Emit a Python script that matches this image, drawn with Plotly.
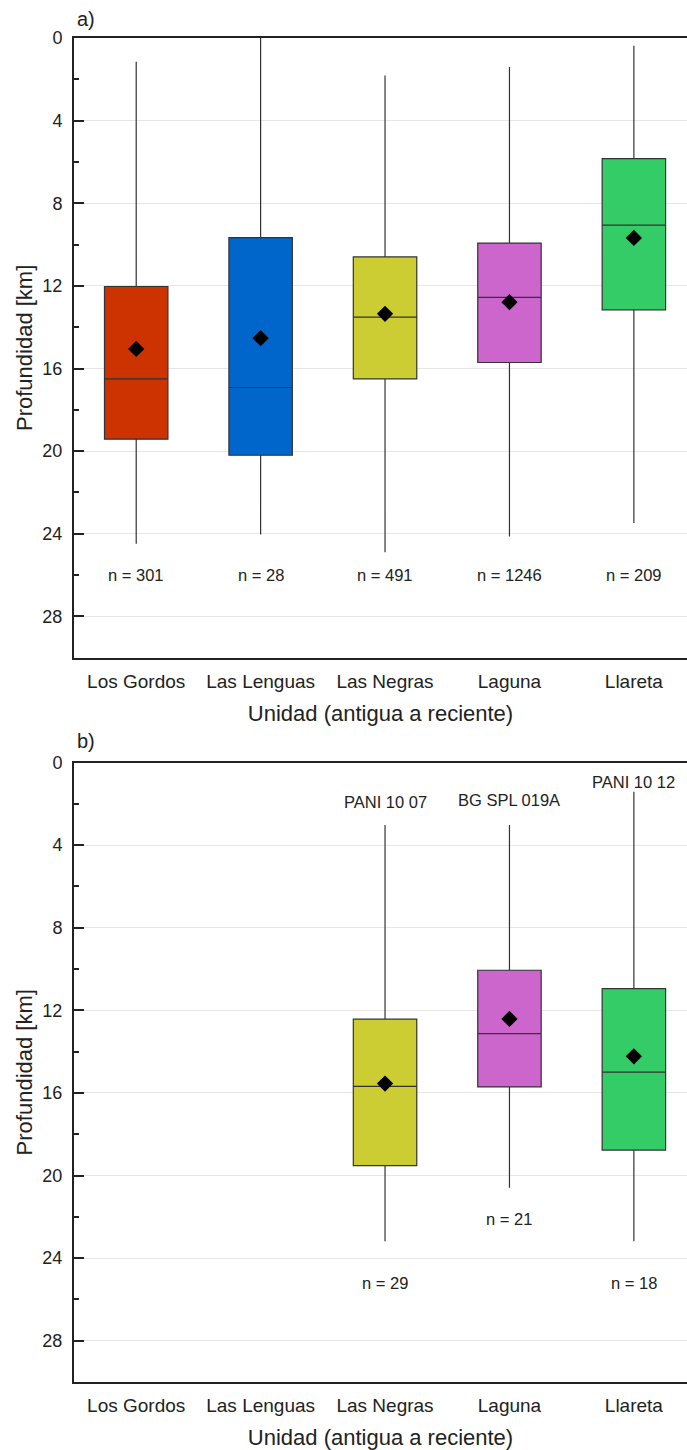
import plotly.graph_objects as go
from plotly.subplots import make_subplots

# ---- data -------------------------------------------------------------
units = ["Los Gordos", "Las Lenguas", "Las Negras", "Laguna", "Llareta"]
unit_colors = ["#CC3300", "#0066CC", "#CCCC33", "#CC66CC", "#33CC66"]

# a) all hypocentres per unit, depth in km
a_min = [1.15, 0.00, 1.81, 1.40, 0.37]
a_q1 = [12.03, 9.66, 10.60, 9.93, 5.84]
a_median = [16.50, 16.92, 13.51, 12.56, 9.06]
a_q3 = [19.42, 20.20, 16.50, 15.71, 13.16]
a_max = [24.48, 24.04, 24.90, 24.13, 23.48]
a_mean = [15.05, 14.53, 13.35, 12.79, 9.68]
a_n = [301, 28, 491, 1246, 209]

# b) single samples
b_units = ["Las Negras", "Laguna", "Llareta"]
b_samples = ["PANI 10 07", "BG SPL 019A", "PANI 10 12"]
b_min = [3.03, 3.03, 1.42]
b_q1 = [12.43, 10.06, 10.95]
b_median = [15.68, 13.13, 14.99]
b_q3 = [19.52, 15.71, 18.77]
b_max = [23.18, 20.59, 23.18]
b_mean = [15.55, 12.42, 14.23]
b_n = [29, 21, 18]

y_ticks = [0, 4, 8, 12, 16, 20, 24, 28]
y_minor = [2, 6, 10, 14, 18, 22, 26]

# ---- styling ----------------------------------------------------------
FONT = "Liberation Sans, Arial, sans-serif"
INK = "#222222"
color_of = dict(zip(units, unit_colors))

W, H = 687, 1450
M_L, M_R, M_T, M_B = 74, 0, 38, 68
plot_h = H - M_T - M_B
top_lo = (H - M_B - 657.7) / plot_h
bot_hi = (H - M_B - 762.5) / plot_h

fig = make_subplots(rows=2, cols=1, shared_xaxes=False, vertical_spacing=0.05)


def add_panel(row, cats, lo, q1, med, q3, hi, mean):
    for i, c in enumerate(cats):
        fig.add_trace(
            go.Box(
                x=[c], lowerfence=[lo[i]], q1=[q1[i]], median=[med[i]],
                q3=[q3[i]], upperfence=[hi[i]],
                fillcolor=color_of[c],
                line=dict(color="#333333", width=1.2),
                width=0.51, whiskerwidth=0, boxpoints=False,
                showlegend=False, hoverinfo="skip",
            ),
            row=row, col=1,
        )
    fig.add_trace(
        go.Scatter(
            x=cats, y=mean, mode="markers",
            marker=dict(symbol="diamond", size=12.5, color="black"),
            showlegend=False, hoverinfo="skip",
        ),
        row=row, col=1,
    )


add_panel(1, units, a_min, a_q1, a_median, a_q3, a_max, a_mean)
add_panel(2, b_units, b_min, b_q1, b_median, b_q3, b_max, b_mean)

annotations = []
# sample counts, panel a
for c, n in zip(units, a_n):
    annotations.append(dict(x=c, y=26.0, xref="x", yref="y", text=f"n = {n}",
                            showarrow=False, font=dict(size=16.5, color=INK, family=FONT)))
# sample counts and names, panel b
b_n_y = [25.2, 22.1, 25.2]
b_name_y = [1.9, 1.82, 0.93]
for c, n, s, ny, sy in zip(b_units, b_n, b_samples, b_n_y, b_name_y):
    annotations.append(dict(x=c, y=ny, xref="x2", yref="y2", text=f"n = {n}",
                            showarrow=False, font=dict(size=16.5, color=INK, family=FONT)))
    annotations.append(dict(x=c, y=sy, xref="x2", yref="y2", text=s,
                            showarrow=False, font=dict(size=16.5, color=INK, family=FONT)))
# panel letters
annotations.append(dict(x=0, y=1, xref="x domain", yref="y domain", xanchor="left",
                        yanchor="middle", xshift=1, yshift=19, text="a)", showarrow=False,
                        font=dict(size=20, color=INK, family=FONT)))
annotations.append(dict(x=0, y=1, xref="x2 domain", yref="y2 domain", xanchor="left",
                        yanchor="middle", xshift=1, yshift=22, text="b)", showarrow=False,
                        font=dict(size=20, color=INK, family=FONT)))

xaxis_style = dict(
    type="category", categoryorder="array", categoryarray=units,
    range=[-0.5, 4.427], showline=True, linewidth=2, linecolor=INK, mirror=True,
    ticks="", showgrid=False, zeroline=False, ticklabelstandoff=5,
    tickfont=dict(size=19, color=INK, family=FONT),
    title=dict(text="Unidad (antigua a reciente)", standoff=15,
               font=dict(size=22, color=INK, family=FONT)),
)
yaxis_style = dict(
    range=[30, 0], tickvals=y_ticks, ticks="inside", ticklen=10, tickwidth=1.5,
    tickcolor=INK, showline=True, linewidth=2, linecolor=INK, mirror=False,
    showgrid=True, gridcolor="#e6e6e6", gridwidth=1, zeroline=False,
    ticklabelstandoff=6,
    minor=dict(tickvals=y_minor, ticks="inside", ticklen=5, tickwidth=1.5,
               tickcolor=INK, showgrid=False),
    tickfont=dict(size=18, color=INK, family=FONT),
    title=dict(text="Profundidad [km]", standoff=4,
               font=dict(size=22, color=INK, family=FONT)),
)

fig.update_layout(
    width=W, height=H,
    margin=dict(l=M_L, r=M_R, t=M_T, b=M_B),
    paper_bgcolor="white", plot_bgcolor="white",
    boxmode="overlay",
    annotations=annotations,
    font=dict(family=FONT, color=INK),
    xaxis=dict(xaxis_style, domain=[0, 1]),
    xaxis2=dict(xaxis_style, domain=[0, 1]),
    yaxis=dict(yaxis_style, domain=[top_lo, 1]),
    yaxis2=dict(yaxis_style, domain=[0, bot_hi]),
)

fig.write_html("out.html")
